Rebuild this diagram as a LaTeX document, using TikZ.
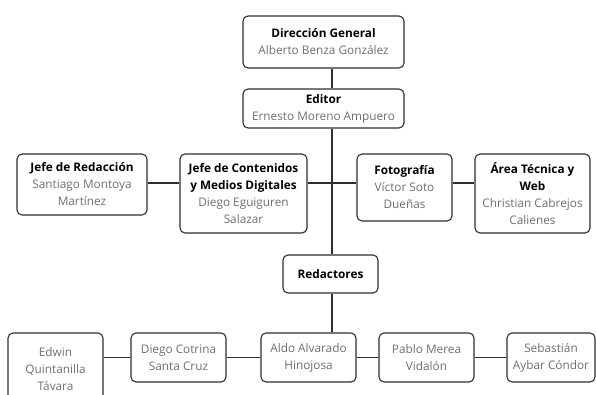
\documentclass[tikz,border=0pt]{standalone}
\usepackage{fontspec}
\setmainfont{Open Sans}
\usetikzlibrary{positioning}
\usepackage{xcolor}
\definecolor{ink}{HTML}{2E2E2E}
\definecolor{muted}{HTML}{6E6E6E}
\newcommand{\who}[1]{{\color{muted}#1}}

\begin{document}
\begin{tikzpicture}[x=1pt, y=-1pt, every node/.style={font=\fontsize{11.8}{17}\selectfont, draw=ink, line width=1.1pt, rounded corners=5pt, align=center, inner sep=0pt}, link/.style={draw=ink, line width=1.5pt}]
    \useasboundingbox (0,0) rectangle (596,394);
    \coordinate (trunk) at (332,0);
    \coordinate (row2) at (0,183);
    % top of the chart
    \node (dir)   at (323.5,42)    [minimum width=161, minimum height=52] {\textbf{Dirección General}\\\who{Alberto Benza González}};
    \node (edit)  at (323.5,108.5) [minimum width=161, minimum height=39] {\textbf{Editor}\\\who{Ernesto Moreno Ampuero}};
    % second row
    \node (redac) at (82,184.5)    [minimum width=130, minimum height=61] {\textbf{Jefe de Redacción}\\\who{Santiago Montoya}\\\who{Martínez}};
    \node (cont)  at (243.5,193.5) [minimum width=127, minimum height=79] {\textbf{Jefe de Contenidos}\\\textbf{y Medios Digitales}\\\who{Diego Eguiguren}\\\who{Salazar}};
    \node (foto)  at (404.5,187.5) [minimum width=95, minimum height=67] {\textbf{Fotografía}\\\who{Víctor Soto}\\\who{Dueñas}};
    \node (area)  at (532.5,193.5) [minimum width=115, minimum height=79] {\textbf{Área Técnica y}\\\textbf{Web}\\\who{Christian Cabrejos}\\\who{Calienes}};
    \node (redact) at (330.5,274)  [minimum width=95, minimum height=38] {\textbf{Redactores}};
    % writers
    \node (edwin) at (55.5,369)    [minimum width=95, minimum height=72] {\who{Edwin}\\\who{Quintanilla}\\\who{Távara}};
    \node (cotri) at (178.5,357.5) [minimum width=95, minimum height=49] {\who{Diego Cotrina}\\\who{Santa Cruz}};
    \node (aldo)  at (308.5,357.5) [minimum width=95, minimum height=49] {\who{Aldo Alvarado}\\\who{Hinojosa}};
    \node (pablo) at (426.5,357.5) [minimum width=95, minimum height=49] {\who{Pablo Merea}\\\who{Vidalón}};
    \node (sebas) at (551,357.5)   [minimum width=88, minimum height=49] {\who{Sebastián}\\\who{Aybar Cóndor}};
    \draw[link] (dir.south -| trunk) -- (edit.north -| trunk);
    \draw[link] (edit.south -| trunk) -- (redact.north -| trunk);
    \draw[link] (redact.south -| trunk) -- (aldo.north -| trunk);
    \draw[link] (redac.east |- row2) -- (cont.west |- row2);
    \draw[link] (cont.east |- row2) -- (foto.west |- row2);
    \draw[link] (foto.east |- row2) -- (area.west |- row2);
    \draw[link] (edwin.east |- cotri.west) -- (cotri.west);
    \draw[link] (cotri.east) -- (aldo.west);
    \draw[link] (aldo.east) -- (pablo.west);
    \draw[link] (pablo.east) -- (sebas.west);
  \end{tikzpicture}
\end{document}
